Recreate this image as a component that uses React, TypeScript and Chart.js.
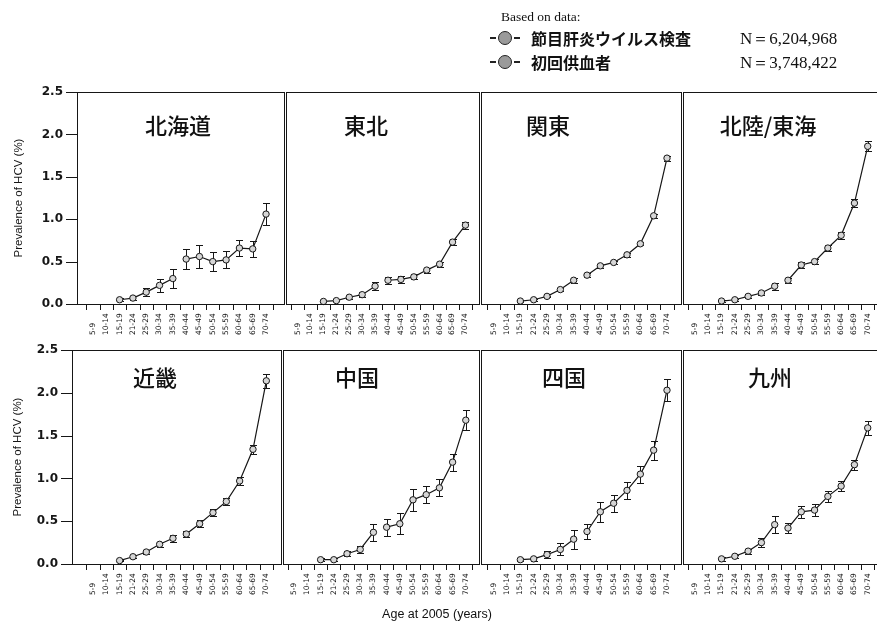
import React, { useEffect, useRef } from 'react';
import { Chart, registerables } from 'chart.js';

Chart.register(...registerables);

// ---------- data ----------
const AGE_GROUPS = ['5-9', '10-14', '15-19', '21-24', '25-29', '30-34', '35-39', '40-44', '45-49', '50-54', '55-59', '60-64', '65-69', '70-74'];
const FIRST_VALUE_AGE_INDEX = 2; // values start at 15-19
const DONOR_POINT_COUNT = 5; // 15-19 .. 35-39 from first-time blood donors; the rest from screening

const REGION_NAMES = ['北海道', '東北', '関東', '北陸/東海', '近畿', '中国', '四国', '九州'];

const HOKKAIDO = [0.05, 0.07, 0.14, 0.22, 0.30, 0.53, 0.56, 0.50, 0.52, 0.66, 0.65, 1.06];
const HOKKAIDO_ERR = [0.02, 0.02, 0.05, 0.08, 0.11, 0.12, 0.13, 0.11, 0.10, 0.09, 0.09, 0.13];
const TOHOKU = [0.03, 0.04, 0.08, 0.11, 0.21, 0.28, 0.29, 0.32, 0.40, 0.47, 0.73, 0.93];
const TOHOKU_ERR = [0.01, 0.01, 0.02, 0.03, 0.05, 0.04, 0.04, 0.03, 0.03, 0.03, 0.04, 0.04];
const KANTO = [0.035, 0.05, 0.09, 0.17, 0.28, 0.34, 0.45, 0.49, 0.58, 0.71, 1.04, 1.72];
const KANTO_ERR = [0.01, 0.01, 0.01, 0.02, 0.03, 0.02, 0.02, 0.02, 0.02, 0.02, 0.02, 0.03];
const HOKURIKU_TOKAI = [0.035, 0.05, 0.09, 0.13, 0.21, 0.28, 0.46, 0.50, 0.66, 0.81, 1.19, 1.86];
const HOKURIKU_TOKAI_ERR = [0.01, 0.01, 0.02, 0.02, 0.04, 0.03, 0.04, 0.03, 0.04, 0.04, 0.05, 0.06];
const KINKI = [0.04, 0.085, 0.14, 0.23, 0.30, 0.35, 0.47, 0.60, 0.73, 0.97, 1.34, 2.14];
const KINKI_ERR = [0.01, 0.02, 0.02, 0.03, 0.04, 0.03, 0.04, 0.04, 0.04, 0.05, 0.05, 0.08];
const CHUGOKU = [0.05, 0.05, 0.12, 0.17, 0.37, 0.43, 0.47, 0.75, 0.81, 0.89, 1.19, 1.68];
const CHUGOKU_ERR = [0.02, 0.02, 0.03, 0.04, 0.10, 0.10, 0.12, 0.13, 0.10, 0.10, 0.10, 0.12];
const SHIKOKU = [0.05, 0.06, 0.11, 0.17, 0.29, 0.38, 0.61, 0.71, 0.86, 1.05, 1.33, 2.03];
const SHIKOKU_ERR = [0.02, 0.02, 0.04, 0.07, 0.11, 0.09, 0.12, 0.10, 0.10, 0.10, 0.11, 0.13];
const KYUSHU = [0.06, 0.09, 0.15, 0.25, 0.46, 0.42, 0.61, 0.63, 0.79, 0.91, 1.16, 1.59];
const KYUSHU_ERR = [0.02, 0.02, 0.03, 0.05, 0.10, 0.06, 0.07, 0.07, 0.06, 0.06, 0.06, 0.08];

const REGION_VALUES = [HOKKAIDO, TOHOKU, KANTO, HOKURIKU_TOKAI, KINKI, CHUGOKU, SHIKOKU, KYUSHU];
const REGION_ERRORS = [HOKKAIDO_ERR, TOHOKU_ERR, KANTO_ERR, HOKURIKU_TOKAI_ERR, KINKI_ERR, CHUGOKU_ERR, SHIKOKU_ERR, KYUSHU_ERR];

const Y_TICKS = [0, 0.5, 1, 1.5, 2, 2.5];
const Y_TICK_LABELS = ['0.0', '0.5', '1.0', '1.5', '2.0', '2.5'];
const Y_MIN = 0;
const Y_MAX = 2.5;

const Y_TITLE = 'Prevalence of HCV (%)';
const X_TITLE = 'Age at 2005 (years)';
const LEGEND_HEADING = 'Based on data:';
const LEGEND_SERIES = ['節目肝炎ウイルス検査', '初回供血者'];
const LEGEND_N = ['N＝6,204,968', 'N＝3,748,422'];

// ---------- layout (positions only) ----------
type PanelLayout = {
  left: number; right: number; top: number; bottom: number;
  xMin: number; xMax: number; yAxis: boolean; titleX: number; titleY: number; yTitleX: number;
};
const PANEL_LAYOUT: PanelLayout[] = [
  { left: 77, right: 285, top: 92, bottom: 304, xMin: -1.2, xMax: 14.35, yAxis: true, titleX: 178, titleY: 124, yTitleX: 19 },
  { left: 285, right: 480, top: 92, bottom: 304, xMin: -0.9, xMax: 14.05, yAxis: false, titleX: 366, titleY: 124, yTitleX: 0 },
  { left: 480, right: 682, top: 92, bottom: 304, xMin: -0.95, xMax: 14.05, yAxis: false, titleX: 548, titleY: 124, yTitleX: 0 },
  { left: 682, right: 882, top: 92, bottom: 304, xMin: -0.9, xMax: 14.0, yAxis: false, titleX: 768, titleY: 124, yTitleX: 0 },
  { left: 72, right: 282, top: 350, bottom: 564, xMin: -1.57, xMax: 14.1, yAxis: true, titleX: 155, titleY: 376, yTitleX: 18 },
  { left: 282, right: 480, top: 350, bottom: 564, xMin: -0.85, xMax: 14.0, yAxis: false, titleX: 357, titleY: 376, yTitleX: 0 },
  { left: 480, right: 682, top: 350, bottom: 564, xMin: -0.95, xMax: 14.05, yAxis: false, titleX: 564, titleY: 376, yTitleX: 0 },
  { left: 682, right: 882, top: 350, bottom: 564, xMin: -0.9, xMax: 14.0, yAxis: false, titleX: 770, titleY: 376, yTitleX: 0 },
];

const INK = '#161616';
const PAD_TOP = 12;
const PAD_BOTTOM = 40;
const PAD_SIDE = 4;

const decorPlugin = {
  id: 'decor',
  beforeDatasetsDraw(chart: any) {
    const ctx = chart.ctx;
    const ys = chart.scales.y;
    ctx.save();
    ctx.strokeStyle = INK;
    ctx.lineWidth = 1;
    chart.data.datasets.forEach((ds: any, di: number) => {
      const meta = chart.getDatasetMeta(di);
      meta.data.forEach((pt: any, i: number) => {
        const d = ds.data[i];
        const e = ds.errors[i];
        const x = Math.round(pt.x) + 0.5;
        const yt = Math.round(ys.getPixelForValue(d.y + e)) + 0.5;
        const yb = Math.round(ys.getPixelForValue(d.y - e)) + 0.5;
        ctx.beginPath();
        ctx.moveTo(x, yt); ctx.lineTo(x, yb);
        ctx.moveTo(x - 3.5, yt); ctx.lineTo(x + 3.5, yt);
        ctx.moveTo(x - 3.5, yb); ctx.lineTo(x + 3.5, yb);
        ctx.stroke();
      });
    });
    ctx.restore();
  },
  afterDraw(chart: any, _args: any, opts: any) {
    const ctx = chart.ctx;
    const { left, right, top, bottom } = chart.chartArea;
    const xs = chart.scales.x;
    const ys = chart.scales.y;
    ctx.save();
    ctx.strokeStyle = INK;
    ctx.fillStyle = INK;
    ctx.lineWidth = 1;
    // frame
    ctx.strokeRect(Math.round(left) + 0.5, Math.round(top) + 0.5, Math.round(right - left), Math.round(bottom - top));
    // x ticks between categories
    ctx.beginPath();
    for (let v = -0.5; v <= AGE_GROUPS.length - 0.5; v += 1) {
      if (v < xs.min || v > xs.max) continue;
      const x = Math.round(xs.getPixelForValue(v)) + 0.5;
      ctx.moveTo(x, bottom); ctx.lineTo(x, bottom + 6);
    }
    ctx.stroke();
    // x labels (rotated, reading upward)
    ctx.font = '7.5px "DejaVu Sans"';
    ctx.textAlign = 'left';
    ctx.textBaseline = 'middle';
    AGE_GROUPS.forEach((lab, i) => {
      const x = xs.getPixelForValue(i);
      ctx.save();
      ctx.translate(x, bottom + 31);
      ctx.rotate(-Math.PI / 2);
      ctx.fillText(lab, 0, 0);
      ctx.restore();
    });
    if (opts.yAxis) {
      ctx.beginPath();
      Y_TICKS.forEach((t) => {
        const y = Math.round(ys.getPixelForValue(t)) + 0.5;
        ctx.moveTo(left - 11, y); ctx.lineTo(left, y);
      });
      ctx.stroke();
      ctx.font = 'bold 12px "DejaVu Sans"';
      ctx.textAlign = 'right';
      ctx.textBaseline = 'middle';
      Y_TICKS.forEach((t, i) => {
        ctx.fillText(Y_TICK_LABELS[i], left - 14, ys.getPixelForValue(t));
      });
      ctx.save();
      ctx.translate(opts.yTitleX, (top + bottom) / 2);
      ctx.rotate(-Math.PI / 2);
      ctx.font = '11.5px "Liberation Sans"';
      ctx.textAlign = 'center';
      ctx.textBaseline = 'middle';
      ctx.fillText(Y_TITLE, 0, 0);
      ctx.restore();
    }
    ctx.restore();
  },
};

function Panel({ index }: { index: number }) {
  const ref = useRef<HTMLCanvasElement | null>(null);
  const L = PANEL_LAYOUT[index];
  const canvasLeft = L.yAxis ? 0 : L.left - PAD_SIDE;
  const canvasTop = L.top - PAD_TOP;
  const width = L.right + PAD_SIDE - canvasLeft;
  const height = L.bottom - L.top + PAD_TOP + PAD_BOTTOM;

  useEffect(() => {
    const values = REGION_VALUES[index];
    const errors = REGION_ERRORS[index];
    const pts = values.map((v, i) => ({ x: i + FIRST_VALUE_AGE_INDEX, y: v }));
    const common = {
      type: 'line' as const,
      borderColor: INK,
      borderWidth: 1.2,
      pointRadius: 3.2,
      pointBackgroundColor: '#d6d6d6',
      pointBorderColor: INK,
      pointBorderWidth: 1,
      fill: false,
      tension: 0,
      clip: false as any,
    };
    const chart = new Chart(ref.current as HTMLCanvasElement, {
      type: 'line',
      data: {
        datasets: [
          { ...common, label: LEGEND_SERIES[1], data: pts.slice(0, DONOR_POINT_COUNT), errors: errors.slice(0, DONOR_POINT_COUNT) } as any,
          { ...common, label: LEGEND_SERIES[0], data: pts.slice(DONOR_POINT_COUNT), errors: errors.slice(DONOR_POINT_COUNT) } as any,
        ],
      },
      options: {
        animation: false,
        responsive: false,
        maintainAspectRatio: false,
        devicePixelRatio: 1,
        layout: {
          padding: { left: L.left - canvasLeft, right: PAD_SIDE, top: PAD_TOP, bottom: PAD_BOTTOM },
        },
        scales: {
          x: { type: 'linear', min: L.xMin, max: L.xMax, display: false },
          y: { type: 'linear', min: Y_MIN, max: Y_MAX, display: false },
        },
        plugins: {
          legend: { display: false },
          tooltip: { enabled: false },
          decor: { yAxis: L.yAxis, yTitleX: L.yTitleX },
        } as any,
      },
      plugins: [decorPlugin],
    });
    return () => chart.destroy();
  }, [index]);

  return (
    <>
      <canvas
        ref={ref}
        width={width}
        height={height}
        style={{ position: 'absolute', left: canvasLeft, top: canvasTop, width, height }}
      />
      <div
        style={{
          position: 'absolute', left: L.titleX, top: L.titleY, transform: 'translate(-50%, -50%)',
          font: '500 22px "Noto Sans CJK JP"', color: '#111', whiteSpace: 'nowrap', lineHeight: 1,
        }}
      >
        {REGION_NAMES[index]}
      </div>
    </>
  );
}

function LegendMarker({ top }: { top: number }) {
  return (
    <div style={{ position: 'absolute', left: 490, top: top - 7, width: 36, height: 14 }}>
      <div style={{ position: 'absolute', left: 0, top: 6, width: 6, height: 2, background: '#222' }} />
      <div style={{ position: 'absolute', left: 8, top: 0, width: 12, height: 12, borderRadius: '50%', background: '#9a9a9a', border: '1.5px solid #222' }} />
      <div style={{ position: 'absolute', left: 24, top: 6, width: 6, height: 2, background: '#222' }} />
    </div>
  );
}

export default function App() {
  const rows = [38, 62];
  return (
    <div style={{ position: 'absolute', left: 0, top: 0, width: 877, height: 625, overflow: 'hidden', background: '#fff' }}>
      {PANEL_LAYOUT.map((_, i) => <Panel key={i} index={i} />)}
      <div style={{ position: 'absolute', left: 501, top: 9, font: '13.5px "Liberation Serif"', color: '#111', whiteSpace: 'nowrap' }}>
        {LEGEND_HEADING}
      </div>
      {rows.map((y, i) => (
        <React.Fragment key={i}>
          <LegendMarker top={y} />
          <div style={{ position: 'absolute', left: 531, top: y, transform: 'translateY(-50%)', font: '700 16px "Noto Sans CJK JP"', color: '#111', whiteSpace: 'nowrap', lineHeight: 1 }}>
            {LEGEND_SERIES[i]}
          </div>
          <div style={{ position: 'absolute', left: 740, top: y, transform: 'translateY(-50%)', font: '17px "Liberation Serif"', color: '#111', whiteSpace: 'nowrap', lineHeight: 1 }}>
            {LEGEND_N[i]}
          </div>
        </React.Fragment>
      ))}
      <div style={{ position: 'absolute', left: 437, top: 614, transform: 'translate(-50%, -50%)', font: '12.5px "Liberation Sans"', color: '#111', whiteSpace: 'nowrap', lineHeight: 1 }}>
        {X_TITLE}
      </div>
    </div>
  );
}
